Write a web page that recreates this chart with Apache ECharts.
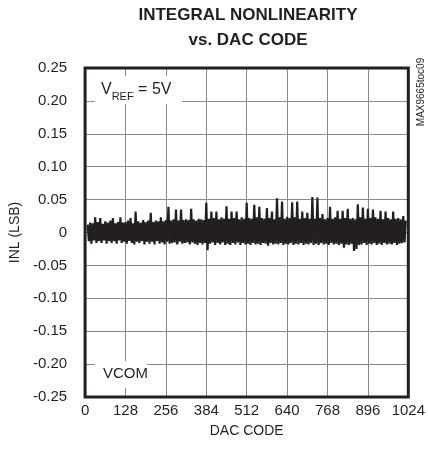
<!DOCTYPE html>
<html>
<head>
<meta charset="utf-8">
<script src="https://cdn.jsdelivr.net/npm/echarts@6/dist/echarts.min.js"></script>
<style>
html,body{margin:0;padding:0;background:#fff;}
#chart{width:428px;height:458px;}
</style>
</head>
<body>
<div id="chart"></div>
<script>
// ---- data ----
var titleLines = ['INTEGRAL NONLINEARITY', 'vs. DAC CODE'];
var xTicks = [0, 128, 256, 384, 512, 640, 768, 896, 1024];
var yTicks = [-0.25, -0.20, -0.15, -0.10, -0.05, 0, 0.05, 0.10, 0.15, 0.20, 0.25];
var xName = 'DAC CODE';
var yName = 'INL (LSB)';
var noteCom = 'VCOM';
var partId = 'MAX9665toc09';
var codeStart = 8;   // first DAC code plotted
var codeStep = 4;    // code spacing of samples
// INL (LSB) samples, one per codeStep codes
var inl = [
  0.012,-0.013,0.015,-0.017,0.014,-0.012,0.023,-0.016,0.016,-0.013,
  0.022,-0.016,0.013,-0.012,0.017,-0.017,0.015,-0.013,0.018,-0.016,
  0.022,-0.013,0.014,-0.017,0.016,-0.012,0.023,-0.016,0.015,-0.014,
  0.016,-0.017,0.018,-0.013,0.022,-0.016,0.014,-0.018,0.032,-0.014,
  0.017,-0.016,0.015,-0.013,0.019,-0.018,0.016,-0.014,0.018,-0.017,
  0.030,-0.014,0.016,-0.018,0.018,-0.013,0.017,-0.017,0.023,-0.015,
  0.017,-0.018,0.019,-0.014,0.039,-0.017,0.018,-0.016,0.020,-0.015,
  0.035,-0.018,0.018,-0.014,0.035,-0.017,0.019,-0.016,0.020,-0.015,
  0.019,-0.018,0.036,-0.015,0.020,-0.017,0.018,-0.019,0.021,-0.016,
  0.020,-0.018,0.019,-0.016,0.045,-0.027,0.021,-0.017,0.032,-0.015,
  0.022,-0.019,0.032,-0.016,0.020,-0.018,0.023,-0.015,0.021,-0.019,
  0.040,-0.017,0.021,-0.019,0.032,-0.016,0.022,-0.018,0.032,-0.015,
  0.020,-0.019,0.023,-0.016,0.021,-0.018,0.045,-0.017,0.022,-0.019,
  0.021,-0.016,0.042,-0.018,0.023,-0.017,0.039,-0.019,0.022,-0.016,
  0.021,-0.017,0.037,-0.020,0.022,-0.016,0.032,-0.018,0.020,-0.017,
  0.052,-0.018,0.023,-0.016,0.047,-0.019,0.021,-0.017,0.024,-0.018,
  0.022,-0.016,0.046,-0.019,0.023,-0.017,0.047,-0.018,0.021,-0.016,
  0.032,-0.019,0.022,-0.017,0.030,-0.018,0.021,-0.016,0.054,-0.019,
  0.021,-0.017,0.053,-0.019,0.022,-0.016,0.028,-0.018,0.020,-0.017,
  0.022,-0.019,0.039,-0.016,0.021,-0.018,0.023,-0.017,0.033,-0.019,
  0.021,-0.017,0.033,-0.023,0.022,-0.018,0.036,-0.019,0.021,-0.017,
  0.022,-0.028,0.020,-0.025,0.043,-0.019,0.023,-0.018,0.038,-0.016,
  0.021,-0.019,0.036,-0.017,0.022,-0.018,0.035,-0.016,0.023,-0.019,
  0.021,-0.017,0.033,-0.019,0.020,-0.016,0.032,-0.018,0.022,-0.017,
  0.020,-0.018,0.032,-0.016,0.021,-0.019,0.022,-0.017,0.020,-0.016,
  0.025,-0.015,0.018
];

// ---- chart ----
var INK = '#231f20';
var GRIDC = '#8a8a8a';
var LBL = '"Liberation Sans",Arial,sans-serif';
var chart = echarts.init(document.getElementById('chart'), null, {renderer: 'canvas'});
var seriesData = inl.map(function (v, i) { return [codeStart + i * codeStep, v]; });

var G = {left: 84, right: 15, top: 68, bottom: 61};

chart.setOption({
  animation: false,
  backgroundColor: '#fff',
  grid: {left: G.left, right: G.right, top: G.top, bottom: G.bottom, show: true,
         borderColor: INK, borderWidth: 3, backgroundColor: 'transparent', z: 3},
  xAxis: {
    type: 'value', min: xTicks[0], max: xTicks[xTicks.length - 1], interval: 128,
    name: xName, nameLocation: 'middle', nameGap: 27,
    nameTextStyle: {fontFamily: LBL, fontSize: 14, color: INK},
    axisLine: {show: false}, axisTick: {show: false},
    axisLabel: {fontFamily: LBL, fontSize: 15, color: INK, margin: 6, showMaxLabel: true, showMinLabel: true,
      formatter: function (v) { return String(v); }},
    splitLine: {show: true, lineStyle: {color: GRIDC, width: 1}}
  },
  yAxis: {
    type: 'value', min: yTicks[0], max: yTicks[yTicks.length - 1], interval: 0.05,
    name: yName, nameLocation: 'middle', nameGap: 56, nameRotate: 90,
    nameTextStyle: {fontFamily: LBL, fontSize: 14, color: INK},
    axisLine: {show: false}, axisTick: {show: false},
    axisLabel: {fontFamily: LBL, fontSize: 15, color: INK, margin: 18,
      formatter: function (v) { return Math.abs(v) < 1e-9 ? '0' : v.toFixed(2); }},
    splitLine: {show: true, lineStyle: {color: GRIDC, width: 1}}
  },
  series: [{
    type: 'line', data: seriesData, showSymbol: false, symbol: 'none',
    lineStyle: {color: INK, width: 2.2}, z: 4, clip: true
  }],
  graphic: [
    {type: 'text', x: 248, y: 3, z: 10, style: {
      text: titleLines.join('\n'), align: 'center', verticalAlign: 'top',
      font: 'bold 17px "Liberation Sans",Arial,sans-serif',
      lineHeight: 25, fill: INK}},
    {type: 'rect', z: 10, shape: {x: 95, y: 76, width: 87, height: 28}, style: {fill: '#fff'}},
    {type: 'text', x: 101, y: 88, z: 11, style: {
      text: '{a|V}{b|REF}{a| = 5V}', verticalAlign: 'middle', align: 'left',
      rich: {
        a: {fontFamily: LBL, fontSize: 16, color: INK, fill: INK, verticalAlign: 'bottom', lineHeight: 20},
        b: {fontFamily: LBL, fontSize: 11, color: INK, fill: INK, verticalAlign: 'bottom', lineHeight: 20, padding: [0, 0, -4, 0]}
      }}},
    {type: 'rect', z: 10, shape: {x: 95, y: 361, width: 52, height: 27}, style: {fill: '#fff'}},
    {type: 'text', x: 103, y: 374, z: 11, style: {
      text: noteCom, verticalAlign: 'middle', align: 'left',
      font: '15px "Liberation Sans",Arial,sans-serif', fill: INK}},
    {type: 'text', x: 421, y: 92, rotation: Math.PI / 2, z: 11, style: {
      text: partId, align: 'center', verticalAlign: 'middle',
      font: '10px "Liberation Sans",sans-serif', fill: INK}}
  ]
});
</script>
</body>
</html>
